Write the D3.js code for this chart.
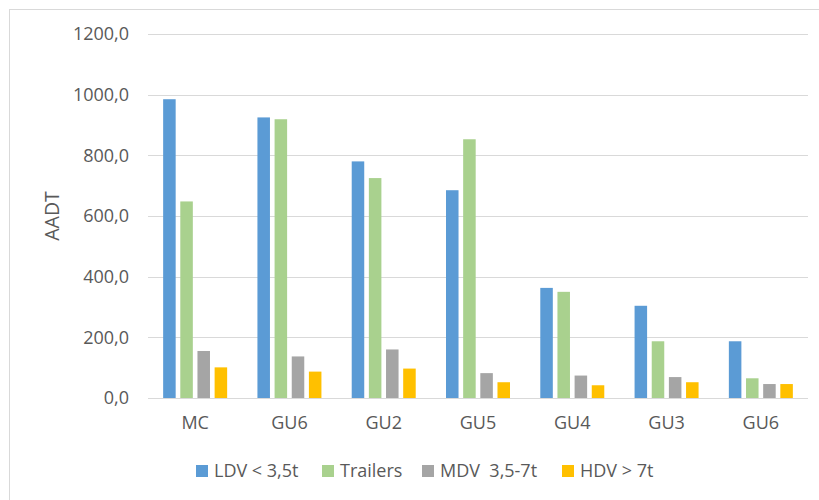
<!DOCTYPE html>
<html>
<head>
<meta charset="utf-8">
<script src="https://cdn.jsdelivr.net/npm/d3@7"></script>
<style>
  body { margin: 0; background: #fff; }
  svg { display: block; font-family: "Open Sans", sans-serif; }
</style>
</head>
<body>
<div id="chart"></div>
<script>
  var categories = ['MC', 'GU6', 'GU2', 'GU5', 'GU4', 'GU3', 'GU6 '];
  var seriesNames = ['LDV < 3,5t', 'Trailers', 'MDV  3,5-7t', 'HDV > 7t'];
  var seriesColors = ['#5b9bd5', '#a9d18e', '#a5a5a5', '#ffc000'];
  var ldv = [985, 925, 780, 685, 363, 304, 187];
  var trailers = [648, 919, 725, 853, 350, 187, 65];
  var mdv = [155, 137, 160, 82, 74, 69, 46];
  var hdv = [101, 87, 97, 52, 42, 52, 46];
  var yTicks = [0, 200, 400, 600, 800, 1000, 1200];

  var values = [ldv, trailers, mdv, hdv];
  var width = 819, height = 500;
  var plot = { left: 148, right: 808, top: 34, bottom: 398 };
  var fontSize = 18;

  var svg = d3.select('#chart').append('svg')
    .attr('width', width)
    .attr('height', height);

  // chart area frame
  svg.append('rect')
    .attr('x', 9.5).attr('y', 9.5)
    .attr('width', width + 20).attr('height', height + 20)
    .attr('fill', 'none')
    .attr('stroke', '#d9d9d9');

  var x = d3.scaleBand()
    .domain(categories)
    .range([plot.left, plot.right]);

  var y = d3.scaleLinear()
    .domain([0, 1200])
    .range([plot.bottom, plot.top]);

  var inner = d3.scaleBand()
    .domain(d3.range(seriesNames.length))
    .range([0, 64])
    .paddingInner(0.27);

  // gridlines
  svg.append('g')
    .selectAll('line')
    .data(yTicks)
    .enter().append('line')
    .attr('x1', plot.left).attr('x2', plot.right)
    .attr('y1', function(d) { return Math.round(y(d)) + 0.5; })
    .attr('y2', function(d) { return Math.round(y(d)) + 0.5; })
    .attr('stroke', '#d9d9d9')
    .attr('stroke-width', 1.2);

  // y axis labels
  var yAxis = d3.axisLeft(y)
    .tickValues(yTicks)
    .tickSize(0)
    .tickPadding(19)
    .tickFormat(function(d) { return d3.format('.1f')(d).replace('.', ','); });

  var yg = svg.append('g')
    .attr('transform', 'translate(' + plot.left + ',0)')
    .call(yAxis);
  yg.select('.domain').remove();
  yg.selectAll('text')
    .attr('font-family', '"Open Sans", sans-serif')
    .attr('font-size', fontSize)
    .attr('fill', '#595959');

  // x axis labels
  var xAxis = d3.axisBottom(x).tickSize(0).tickPadding(18);
  var xg = svg.append('g')
    .attr('transform', 'translate(0,' + plot.bottom + ')')
    .call(xAxis);
  xg.select('.domain').remove();
  xg.selectAll('text')
    .attr('font-family', '"Open Sans", sans-serif')
    .attr('font-size', fontSize)
    .attr('fill', '#595959');

  // bars
  var groups = svg.append('g')
    .selectAll('g.cat')
    .data(categories)
    .enter().append('g')
    .attr('class', 'cat')
    .attr('transform', function(d) {
      return 'translate(' + (x(d) + (x.bandwidth() - 64) / 2) + ',0)';
    });

  groups.selectAll('rect')
    .data(function(d, i) {
      return values.map(function(s, k) { return { k: k, v: s[i] }; });
    })
    .enter().append('rect')
    .attr('x', function(d) { return inner(d.k); })
    .attr('width', inner.bandwidth())
    .attr('y', function(d) { return y(d.v); })
    .attr('height', function(d) { return y(0) - y(d.v); })
    .attr('fill', function(d) { return seriesColors[d.k]; });

  // legend
  var legendX = [196, 322, 422, 562];
  var legend = svg.append('g')
    .selectAll('g.item')
    .data(seriesNames)
    .enter().append('g')
    .attr('class', 'item')
    .attr('transform', function(d, i) { return 'translate(' + legendX[i] + ',465)'; });

  legend.append('rect')
    .attr('width', 12).attr('height', 12)
    .attr('fill', function(d, i) { return seriesColors[i]; });

  legend.append('text')
    .attr('x', 18).attr('y', 6)
    .attr('dy', '0.36em')
    .attr('font-size', fontSize)
    .attr('fill', '#595959')
    .style('white-space', 'pre')
    .text(function(d) { return d; });

  // y title
  svg.append('text')
    .attr('transform', 'translate(52,216) rotate(-90)')
    .attr('text-anchor', 'middle')
    .attr('dy', '0.36em')
    .attr('font-size', 19.5)
    .attr('fill', '#595959')
    .text('AADT');
</script>
</body>
</html>
